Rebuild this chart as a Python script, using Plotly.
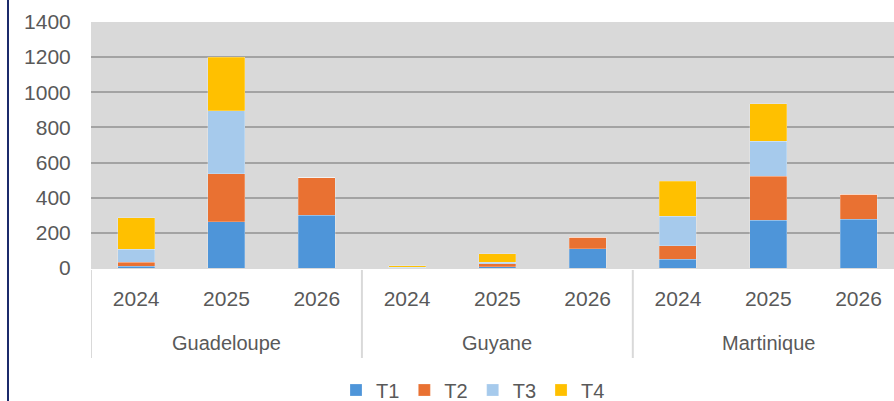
import plotly.graph_objects as go

regions = ["Guadeloupe", "Guyane", "Martinique"]
years = ["2024", "2025", "2026"]
series_names = ["T1", "T2", "T3", "T4"]
T1 = [10, 263, 300, 1, 8, 109, 50, 273, 278]
T2 = [24, 274, 215, 1, 15, 65, 76, 249, 141]
T3 = [73, 358, 0, 2, 11, 0, 168, 198, 0]
T4 = [179, 305, 0, 8, 46, 0, 200, 214, 0]
y_ticks = [0, 200, 400, 600, 800, 1000, 1200, 1400]

colors = ["#4E95D9", "#E97132", "#A6CAEC", "#FFC000"]
font_family = "Liberation Sans, Arial, sans-serif"
text_color = "#595959"

n_years = len(years)
x_pos = list(range(len(regions) * n_years))
x_labels = [y for _ in regions for y in years]

fig = go.Figure()
for name, vals, col in zip(series_names, [T1, T2, T3, T4], colors):
    fig.add_trace(go.Bar(
        x=x_pos, y=vals, name=name,
        marker=dict(color=col, line=dict(color="rgba(255,255,255,0.3)", width=0.75)),
    ))

W, H = 894, 401
ml, mr, mt, mb = 91, 0, 22, 133
slot = 90.3
plot_w = W - ml - mr
x_max = -0.5 + plot_w / slot

shapes = []
# group dividers under the axis
for g in range(len(regions) + 1):
    shapes.append(dict(type="line", xref="x", yref="paper",
                       x0=g * n_years - 0.5, x1=g * n_years - 0.5,
                       y0=-0.008, y1=-(358 - 268) / 246,
                       line=dict(color="#D9D9D9", width=2), layer="above"))
# left navy border
shapes.append(dict(type="line", xref="paper", yref="paper",
                   x0=(8 - ml) / plot_w, x1=(8 - ml) / plot_w,
                   y0=-0.7, y1=1.2, line=dict(color="#1B2A6B", width=2)))

annotations = []
for i, r in enumerate(regions):
    annotations.append(dict(text=r, xref="x", yref="paper",
                            x=i * n_years + (n_years - 1) / 2, y=-(343 - 268) / 246,
                            showarrow=False, yanchor="middle", xanchor="center",
                            font=dict(family=font_family, size=20, color=text_color)))

fig.update_layout(
    width=W, height=H,
    margin=dict(l=ml, r=mr, t=mt, b=mb, pad=0, autoexpand=False),
    barmode="stack", bargap=0.59,
    plot_bgcolor="#D9D9D9", paper_bgcolor="#FFFFFF",
    showlegend=True,
    legend=dict(orientation="h", x=(473 - ml) / plot_w, xanchor="center",
                y=-(390 - 268) / 246, yanchor="middle",
                font=dict(family=font_family, size=20, color=text_color),
                itemwidth=30, traceorder="normal", bgcolor="rgba(0,0,0,0)"),
    xaxis=dict(range=[-0.5, x_max], tickmode="array", tickvals=x_pos, ticktext=x_labels,
               showgrid=False, zeroline=False, showline=False, automargin=False,
               ticks="outside", ticklen=12, tickcolor="rgba(0,0,0,0)",
               tickfont=dict(family=font_family, size=21, color=text_color), fixedrange=True),
    yaxis=dict(range=[0, 1400], tickmode="array", tickvals=y_ticks, automargin=False,
               showgrid=True, gridcolor="#A3A3A3", gridwidth=2,
               zeroline=True, zerolinecolor="#D9D9D9", zerolinewidth=1, showline=False,
               ticks="outside", ticklen=15, tickcolor="rgba(0,0,0,0)",
               tickfont=dict(family=font_family, size=21, color=text_color)),
    shapes=shapes, annotations=annotations,
)

fig.write_html("out.html", config={"displayModeBar": False},
               post_script="document.body.style.margin='0';document.body.style.overflow='hidden';")
